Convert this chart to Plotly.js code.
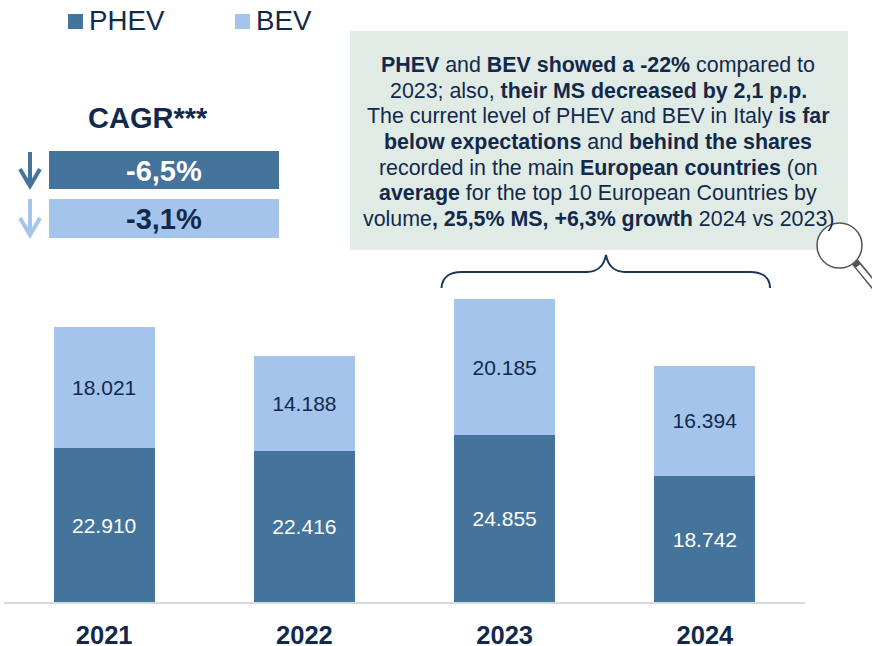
<!DOCTYPE html>
<html><head><meta charset="utf-8">
<script src="https://cdn.plot.ly/plotly-3.0.1.min.js"></script>
<style>html,body{margin:0;padding:0;background:#fff}#c{width:872px;height:646px}</style>
</head><body><div id="c"></div>
<script>
const years = ['2021','2022','2023','2024'];
const phev = [22910,22416,24855,18742];
const bev = [18021,14188,20185,16394];
const phevLabels = ['22.910','22.416','24.855','18.742'];
const bevLabels = ['18.021','14.188','20.185','16.394'];
const seriesNames = ['PHEV','BEV'];
const cagrLabels = ['-6,5%','-3,1%'];
const calloutLines = [
 '<b>PHEV</b> and <b>BEV showed a -22%</b> compared to',
 '2023; also, <b>their MS decreased by 2,1 p.p.</b>',
 'The current level of PHEV and BEV in Italy <b>is far</b>',
 '<b>below expectations</b> and <b>behind the shares</b>',
 'recorded in the main <b>European countries</b> (on',
 '<b>average</b> for the top 10 European Countries by',
 'volume<b>, 25,5% MS, +6,3% growth</b> 2024 vs 2023)'
];
const NAVY='#12294b', DARK='#44739c', LIGHT='#a4c4ec', BOX='#e1ebe6';
const FONT='"Liberation Sans", Arial, sans-serif';
const W=872,H=646,L=4,R=805,T=200,B=602;
const px=x=>(x-L)/(R-L), py=y=>(B-y)/(B-T);
const rect=(x0,y0,x1,y1,fill)=>({type:'rect',xref:'paper',yref:'paper',x0:px(x0),x1:px(x1),y0:py(y0),y1:py(y1),fillcolor:fill,line:{width:0},layer:'above'});
const path=(pts,color,width,fill)=>({type:'path',xref:'paper',yref:'paper',layer:'above',
  path:pts.map(p=>typeof p==='string'?p:px(p[0])+','+py(p[1])).join(' ').replace(/([MLCZ]) /g,'$1'),
  line:{color:color,width:width},fillcolor:fill||'rgba(0,0,0,0)'});
const txt=(x,y,text,size,color,bold)=>({xref:'paper',yref:'paper',x:px(x),y:py(y),text:bold?'<b>'+text+'</b>':text,showarrow:false,
  xanchor:'center',yanchor:'middle',font:{family:FONT,size:size,color:color}});
const lineY=[65,91,116,142,168,193,219];
const shapes=[
 rect(68,14,83,29,DARK), rect(235,14,250,29,LIGHT),
 rect(49,151,279,189,DARK), rect(49,199,279,238,LIGHT),
 rect(350,31,848,250,BOX),
 path(['M',[30,152],'L',[30,186]],DARK,4),
 path(['M',[20,169],'L',[30,186],'L',[40,169]],DARK,4),
 path(['M',[30,199],'L',[30,235]],LIGHT,4),
 path(['M',[20,218],'L',[30,235],'L',[40,218]],LIGHT,4),
 path(['M',[441.5,288],'C',[442,278],[449,272],[462,272],'L',[587,272],'C',[597,272],[604,266],[606,255],'C',[608,266],[615,272],[625,272],'L',[750,272],'C',[763,272],[770,278],[770,288]],'#1a3558',2),
 path(['M',[855,262],'L',[877,289]],'#555555',8),
 path(['M',[858,266],'L',[877,289]],'#ffffff',5),
 {type:'circle',xref:'paper',yref:'paper',x0:px(817),x1:px(862),y0:py(223),y1:py(268),fillcolor:'#ffffff',line:{color:'#555555',width:1.5},layer:'above'}
];
const annotations=[
 txt(127,20,seriesNames[0],27.7,NAVY), txt(283.5,20,seriesNames[1],27.7,NAVY),
 txt(148,118,'CAGR***',29,NAVY,true),
 txt(164,171,cagrLabels[0],29,'#ffffff',true), txt(164,219,cagrLabels[1],29,NAVY,true)
].concat(calloutLines.map((t,i)=>txt(598,lineY[i],t,21.4,NAVY)));
const common={type:'bar',x:years,textposition:'inside',insidetextanchor:'middle',constraintext:'none',
  textangle:0,hoverinfo:'x+y',showlegend:false};
Plotly.newPlot('c',[
 Object.assign({},common,{name:seriesNames[0],y:phev,text:phevLabels,marker:{color:DARK},textfont:{family:FONT,size:21,color:'#ffffff'}}),
 Object.assign({},common,{name:seriesNames[1],y:bev,text:bevLabels,marker:{color:LIGHT},textfont:{family:FONT,size:21,color:NAVY}})
],{
 width:W,height:H,margin:{l:L,r:W-R,t:T,b:H-B,pad:0},
 barmode:'stack',bargap:0.496,paper_bgcolor:'#fff',plot_bgcolor:'#fff',showlegend:false,
 xaxis:{type:'category',showgrid:false,zeroline:false,showline:false,ticks:'outside',ticklen:10,tickcolor:'rgba(0,0,0,0)',
   tickfont:{family:FONT,size:25.5,color:NAVY,weight:700}},
 yaxis:{visible:false,range:[0,(B-T)/0.00672],fixedrange:true},
 shapes:shapes.concat([{type:'line',xref:'paper',yref:'paper',x0:0,x1:1,y0:py(603),y1:py(603),line:{color:'#d9d9d9',width:2},layer:'above'}]),
 annotations:annotations
},{displayModeBar:false,staticPlot:true});
</script></body></html>
